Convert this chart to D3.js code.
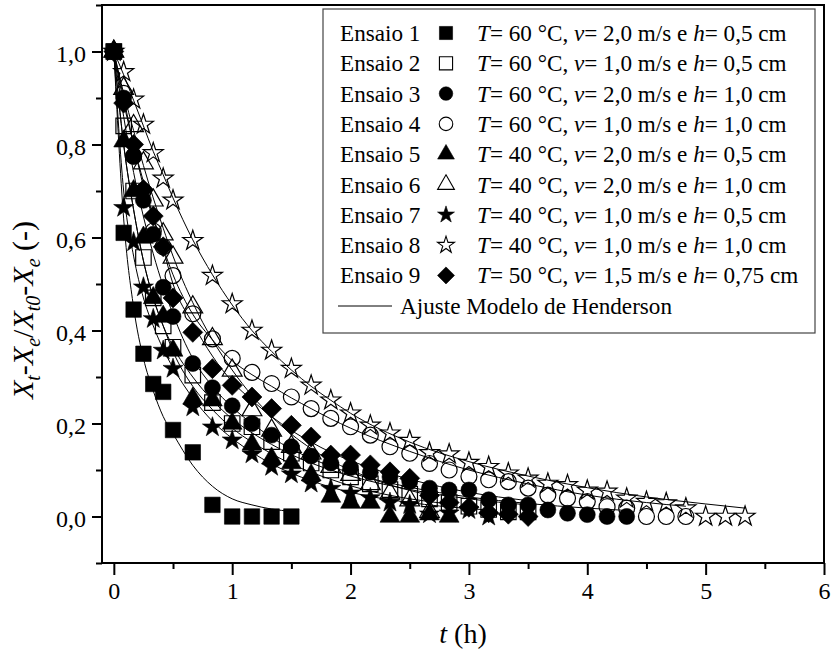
<!DOCTYPE html>
<html><head><meta charset="utf-8">
<script src="https://cdn.jsdelivr.net/npm/d3@7"></script>
<style>body{margin:0;background:#fff}text{font-family:"Liberation Serif","Times New Roman",serif;fill:#000}</style>
</head><body><svg id="c" width="835" height="658"></svg>
<script>
// ---- data ----
const tempo = [0, 0.083, 0.167, 0.25, 0.333, 0.417, 0.5, 0.667, 0.833, 1.0, 1.167, 1.333, 1.5, 1.667, 1.833, 2.0, 2.167, 2.333, 2.5, 2.667, 2.833, 3.0, 3.167, 3.333, 3.5, 3.667, 3.833, 4.0, 4.167, 4.333, 4.5, 4.667, 4.833, 5.0, 5.167, 5.333];
const ensaio1 = [1.0, 0.61, 0.445, 0.35, 0.285, 0.268, 0.186, 0.138, 0.025, 0, 0, 0, 0];
const ensaio2 = [1.0, 0.84, 0.70, 0.557, 0.47, 0.41, 0.364, 0.304, 0.245, 0.2, 0.193, 0.161, 0.136, 0.115, 0.1, 0.085, 0.07, 0.058, 0.048, 0.038, 0.03, 0.022, 0.015, 0.01, 0.01];
const ensaio3 = [1.0, 0.9, 0.775, 0.68, 0.607, 0.493, 0.43, 0.329, 0.277, 0.238, 0.2, 0.175, 0.15, 0.13, 0.115, 0.105, 0.095, 0.085, 0.075, 0.061, 0.057, 0.057, 0.036, 0.025, 0.025, 0.014, 0.007, 0.004, 0, 0];
const ensaio4 = [1.0, 0.91, 0.775, 0.70, 0.614, 0.58, 0.518, 0.436, 0.382, 0.34, 0.31, 0.286, 0.257, 0.232, 0.211, 0.193, 0.175, 0.15, 0.136, 0.114, 0.1, 0.086, 0.079, 0.075, 0.061, 0.046, 0.039, 0.032, 0.021, 0.018, 0, 0, 0];
const ensaio5 = [1.0, 0.807, 0.70, 0.60, 0.47, 0.43, 0.357, 0.254, 0.25, 0.2, 0.155, 0.125, 0.115, 0.089, 0.043, 0.03, 0.03, 0.0, 0.0, 0.005, 0.0];
const ensaio6 = [1.0, 0.92, 0.84, 0.76, 0.68, 0.607, 0.557, 0.45, 0.382, 0.314, 0.229, 0.185, 0.15, 0.136, 0.107, 0.09, 0.07, 0.05, 0.035, 0.01];
const ensaio7 = [1.0, 0.664, 0.59, 0.493, 0.425, 0.357, 0.318, 0.235, 0.192, 0.164, 0.134, 0.107, 0.091, 0.071, 0.06, 0.05, 0.04, 0.03, 0.025, 0.005, 0.007, 0.014, 0.0];
const ensaio8 = [1.0, 0.956, 0.897, 0.843, 0.782, 0.727, 0.68, 0.593, 0.518, 0.457, 0.40, 0.357, 0.318, 0.282, 0.25, 0.222, 0.196, 0.179, 0.163, 0.137, 0.134, 0.116, 0.107, 0.093, 0.082, 0.071, 0.068, 0.056, 0.054, 0.039, 0.032, 0.029, 0.018, 0.0, 0.0, 0.0];
const ensaio9 = [1.0, 0.889, 0.80, 0.703, 0.646, 0.58, 0.47, 0.396, 0.318, 0.282, 0.257, 0.232, 0.196, 0.171, 0.132, 0.132, 0.111, 0.096, 0.082, 0.045, 0.03, 0.02, 0.008, 0.005, 0.0];

// Henderson fit curves [t, value]
const ajuste1 = [[0,1],[0.083,0.64],[0.167,0.45],[0.25,0.34],[0.333,0.27],[0.417,0.215],[0.5,0.178],[0.667,0.11],[0.833,0.065],[1.0,0.038],[1.167,0.025],[1.333,0.016],[1.5,0.011]];
const ajuste2 = [[0,1],[0.083,0.8],[0.167,0.66],[0.25,0.55],[0.333,0.47],[0.417,0.41],[0.5,0.365],[0.667,0.3],[0.833,0.25],[1.0,0.21],[1.167,0.18],[1.333,0.155],[1.5,0.133],[1.667,0.115],[1.833,0.1],[2.0,0.087],[2.5,0.058],[3.0,0.038],[3.5,0.025]];
const ajuste3 = [[0,1],[0.083,0.86],[0.167,0.74],[0.25,0.645],[0.333,0.565],[0.417,0.495],[0.5,0.435],[0.667,0.34],[0.833,0.28],[1.0,0.235],[1.167,0.2],[1.333,0.17],[1.5,0.145],[1.667,0.125],[1.833,0.108],[2.0,0.094],[2.5,0.063],[3.0,0.042],[3.5,0.028],[4.0,0.018],[4.333,0.013]];
const ajuste4 = [[0,1],[0.083,0.9],[0.167,0.8],[0.25,0.72],[0.333,0.645],[0.417,0.578],[0.5,0.52],[0.667,0.435],[0.833,0.38],[1.0,0.335],[1.167,0.305],[1.333,0.28],[1.5,0.255],[1.667,0.232],[1.833,0.21],[2.0,0.19],[2.5,0.14],[3.0,0.1],[3.5,0.07],[4.0,0.046],[4.5,0.03],[4.833,0.022]];
const ajuste5 = [[0,1],[0.083,0.8],[0.167,0.66],[0.25,0.55],[0.333,0.47],[0.417,0.41],[0.5,0.355],[0.667,0.28],[0.833,0.23],[1.0,0.19],[1.167,0.16],[1.333,0.135],[1.5,0.113],[1.667,0.095],[1.833,0.08],[2.0,0.066],[2.5,0.038],[2.833,0.027]];
const ajuste6 = [[0,1],[0.083,0.91],[0.167,0.83],[0.25,0.755],[0.333,0.685],[0.417,0.62],[0.5,0.56],[0.667,0.46],[0.833,0.38],[1.0,0.315],[1.167,0.26],[1.333,0.215],[1.5,0.177],[1.667,0.146],[1.833,0.12],[2.0,0.1],[2.333,0.068],[2.667,0.046]];
const ajuste7 = [[0,1],[0.083,0.7],[0.167,0.56],[0.25,0.47],[0.333,0.41],[0.417,0.36],[0.5,0.32],[0.667,0.255],[0.833,0.205],[1.0,0.168],[1.167,0.138],[1.333,0.113],[1.5,0.093],[1.667,0.077],[1.833,0.063],[2.0,0.052],[2.5,0.03],[3.0,0.017],[3.167,0.014]];
const ajuste8 = [[0,1],[0.083,0.95],[0.167,0.895],[0.25,0.84],[0.333,0.785],[0.417,0.735],[0.5,0.685],[0.667,0.595],[0.833,0.52],[1.0,0.455],[1.167,0.4],[1.333,0.355],[1.5,0.315],[1.667,0.28],[1.833,0.25],[2.0,0.222],[2.5,0.16],[3.0,0.118],[3.5,0.087],[4.0,0.062],[4.5,0.042],[5.0,0.027],[5.333,0.018]];
const ajuste9 = [[0,1],[0.083,0.89],[0.167,0.8],[0.25,0.71],[0.333,0.64],[0.417,0.575],[0.5,0.5],[0.667,0.415],[0.833,0.345],[1.0,0.29],[1.167,0.25],[1.333,0.215],[1.5,0.185],[1.667,0.16],[1.833,0.138],[2.0,0.12],[2.5,0.08],[3.0,0.052],[3.5,0.034]];

const ensaioNomes = ["Ensaio 1","Ensaio 2","Ensaio 3","Ensaio 4","Ensaio 5","Ensaio 6","Ensaio 7","Ensaio 8","Ensaio 9"];
const temperaturas = ["60","60","60","60","40","40","40","40","50"];
const velocidades = ["2,0","1,0","2,0","1,0","2,0","2,0","1,0","1,0","1,5"];
const alturas = ["0,5","0,5","1,0","1,0","0,5","1,0","0,5","1,0","0,75"];
const xTicks = [0,1,2,3,4,5,6];
const yTicks = [0,0.2,0.4,0.6,0.8,1.0];
const ajusteNome = "Ajuste Modelo de Henderson";

// ---- chart ----
const series = [ensaio1,ensaio2,ensaio3,ensaio4,ensaio5,ensaio6,ensaio7,ensaio8,ensaio9];
const ajustes = [ajuste1,ajuste2,ajuste3,ajuste4,ajuste5,ajuste6,ajuste7,ajuste8,ajuste9];
const estilos = [
  {type:d3.symbolSquare, size:240, fill:true, rot:0},
  {type:d3.symbolSquare, size:240, fill:false, rot:0},
  {type:d3.symbolCircle, size:200, fill:true, rot:0},
  {type:d3.symbolCircle, size:200, fill:false, rot:0},
  {type:d3.symbolTriangle, size:170, fill:true, rot:0},
  {type:d3.symbolTriangle, size:170, fill:false, rot:0},
  {type:d3.symbolStar, size:124, fill:true, rot:0},
  {type:d3.symbolStar, size:124, fill:false, rot:0},
  {type:d3.symbolSquare, size:200, fill:true, rot:45}
];

const L = 102, T = 5, R = 824, B = 563;
const svg = d3.select("#c");
const x = d3.scaleLinear().domain([-0.1, 6]).range([L, R]);
const y = d3.scaleLinear().domain([-0.1, 1.1]).range([B, T]);

const plot = svg.append("g");
const line = d3.line().x(d => x(d[0])).y(d => y(d[1])).curve(d3.curveMonotoneX);

series.forEach((s, i) => {
  const st = estilos[i];
  const sym = d3.symbol().type(st.type).size(st.size);
  plot.append("g").selectAll("path").data(s).join("path")
    .attr("d", sym)
    .attr("transform", (d, j) => `translate(${x(tempo[j])},${y(d)}) rotate(${st.rot})`)
    .attr("fill", st.fill ? "#000" : "none")
    .attr("stroke", "#000")
    .attr("stroke-width", st.fill ? 0.6 : 1.2);
});
ajustes.forEach(a => {
  plot.append("path").datum(a).attr("d", line)
    .attr("fill", "none").attr("stroke", "#000").attr("stroke-width", 1);
});

// axes
const fmtY = d => d3.format(".1f")(d).replace(".", ",");
const gx = svg.append("g").attr("transform", `translate(0,${B})`)
  .call(d3.axisBottom(x).tickValues(xTicks).tickSize(12).tickPadding(7).tickFormat(d3.format("d")));
const gxm = svg.append("g").attr("transform", `translate(0,${B})`)
  .call(d3.axisBottom(x).tickValues([0.5,1.5,2.5,3.5,4.5,5.5]).tickSize(6).tickFormat(""));
const gy = svg.append("g").attr("transform", `translate(${L},0)`)
  .call(d3.axisLeft(y).tickValues(yTicks).tickSize(10).tickPadding(6).tickFormat(fmtY));
const gym = svg.append("g").attr("transform", `translate(${L},0)`)
  .call(d3.axisLeft(y).tickValues([-0.1,0.1,0.3,0.5,0.7,0.9,1.1]).tickSize(6).tickFormat(""));
[gx,gxm,gy,gym].forEach(g => {
  g.select(".domain").remove();
  g.selectAll("line").attr("stroke", "#000").attr("stroke-width", 2);
  g.selectAll("text").style("font-family", '"Liberation Serif", serif').style("font-size", "24px").attr("fill", "#000");
});
gy.selectAll("text").attr("dy", "0.42em");

svg.append("rect").attr("x", L).attr("y", T).attr("width", R - L).attr("height", B - T)
  .attr("fill", "none").attr("stroke", "#000").attr("stroke-width", 2);

// axis titles
const xt = svg.append("text").attr("x", (L + R) / 2).attr("y", 643).attr("text-anchor", "middle").style("font-size", "28px");
xt.append("tspan").attr("font-style", "italic").text("t");
xt.append("tspan").text(" (h)");

const yt = svg.append("text").attr("transform", "translate(33,310) rotate(-90)").attr("text-anchor", "middle").style("font-size", "30px");
const parts = [["X",1,0],["t",1,1],["-",0,0],["X",1,0],["e",1,1],["/",0,0],["X",1,0],["t0",1,1],["-",0,0],["X",1,0],["e",1,1],[" (-)",0,0]];
let sub = false;
parts.forEach(p => {
  const ts = yt.append("tspan").text(p[0]);
  if (p[1]) ts.attr("font-style", "italic");
  if (p[2] && !sub) { ts.attr("dy", 7).style("font-size", "20px"); sub = true; }
  else if (p[2]) { ts.style("font-size", "20px"); }
  else if (sub) { ts.attr("dy", -7); sub = false; }
});

// legend
const lg = svg.append("g");
lg.append("rect").attr("x", 323).attr("y", 9).attr("width", 492).attr("height", 324)
  .attr("fill", "#fff").attr("stroke", "#444").attr("stroke-width", 1.2);
const rowY = i => 33 + i * 30.3;
const addText = (xp, yp) => lg.append("text").attr("transform", `translate(${xp},${yp}) scale(0.965,1)`).style("font-size", "24px");
ensaioNomes.forEach((n, i) => {
  const cy = rowY(i);
  addText(340, cy + 8).text(n);
  const st = estilos[i];
  lg.append("path").attr("d", d3.symbol().type(st.type).size(st.size * 0.72))
    .attr("transform", `translate(446,${cy}) rotate(${st.rot})`)
    .attr("fill", st.fill ? "#000" : "none").attr("stroke", "#000").attr("stroke-width", st.fill ? 0.6 : 1.1);
  const t = addText(477, cy + 8);
  t.append("tspan").attr("font-style", "italic").text("T");
  t.append("tspan").text(`= ${temperaturas[i]} °C, `);
  t.append("tspan").attr("font-style", "italic").text("v");
  t.append("tspan").text(`= ${velocidades[i]} m/s e `);
  t.append("tspan").attr("font-style", "italic").text("h");
  t.append("tspan").text(`= ${alturas[i]} cm`);
});
const ay = 306;
lg.append("line").attr("x1", 338).attr("x2", 392).attr("y1", ay).attr("y2", ay).attr("stroke", "#000").attr("stroke-width", 1);
addText(400, ay + 8).text(ajusteNome);
</script>
</body></html>
